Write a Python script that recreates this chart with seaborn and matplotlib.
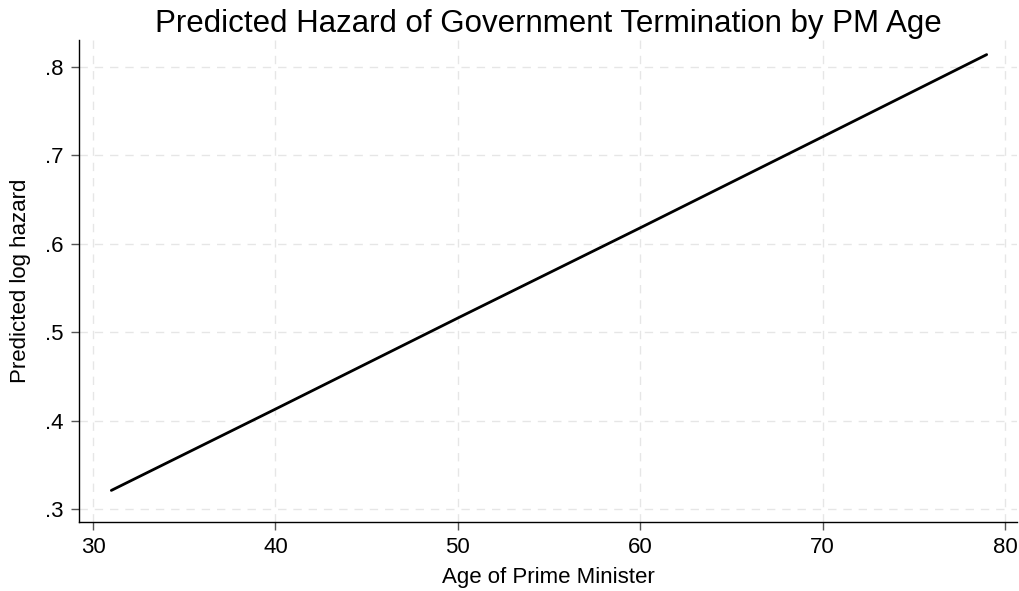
import matplotlib.pyplot as plt
import matplotlib.ticker as mticker
import pandas as pd
import seaborn as sns

# Predicted log hazard
pm_age = [31, 40, 50, 60, 70, 79]
log_hazard = [0.321, 0.413, 0.516, 0.618, 0.721, 0.814]

x_ticks = [30, 40, 50, 60, 70, 80]
y_ticks = [0.3, 0.4, 0.5, 0.6, 0.7, 0.8]
y_tick_labels = [".3", ".4", ".5", ".6", ".7", ".8"]

df = pd.DataFrame({"age": pm_age, "hazard": log_hazard})

sns.set_theme(style="white")
plt.rcParams["font.family"] = ["Liberation Sans", "DejaVu Sans"]
plt.rcParams["text.color"] = "black"
plt.rcParams["axes.labelcolor"] = "black"
plt.rcParams["xtick.labelcolor"] = "black"
plt.rcParams["ytick.labelcolor"] = "black"

fig = plt.figure(figsize=(10.2, 5.91), dpi=100)
ax = fig.add_axes([0.0775, 0.1168, 0.9195, 0.8155])

sns.lineplot(data=df, x="age", y="hazard", ax=ax, color="black", linewidth=2)

ax.set_xlim(29.23, 80.66)
ax.set_ylim(0.2853, 0.8305)
ax.set_xticks(x_ticks)
ax.set_yticks(y_ticks)
ax.yaxis.set_major_formatter(mticker.FixedFormatter(y_tick_labels))

# Stata-like dashed grid
ax.grid(True, linestyle=(0, (6, 5)), color="#e6e6e6", linewidth=1)

for side in ["top", "right"]:
    ax.spines[side].set_visible(False)
for side in ["left", "bottom"]:
    ax.spines[side].set_color("black")
    ax.spines[side].set_linewidth(1)

ax.tick_params(axis="both", which="major", direction="out", length=6, width=1,
               color="#555555", labelsize=16, left=True, bottom=True, pad=5)

ax.set_xlabel("Age of Prime Minister", fontsize=16, labelpad=6)
ax.set_ylabel("Predicted log hazard", fontsize=16, labelpad=10)
ax.set_title("Predicted Hazard of Government Termination by PM Age", fontsize=22.5, pad=6)

fig.savefig("out.png", dpi=100)
